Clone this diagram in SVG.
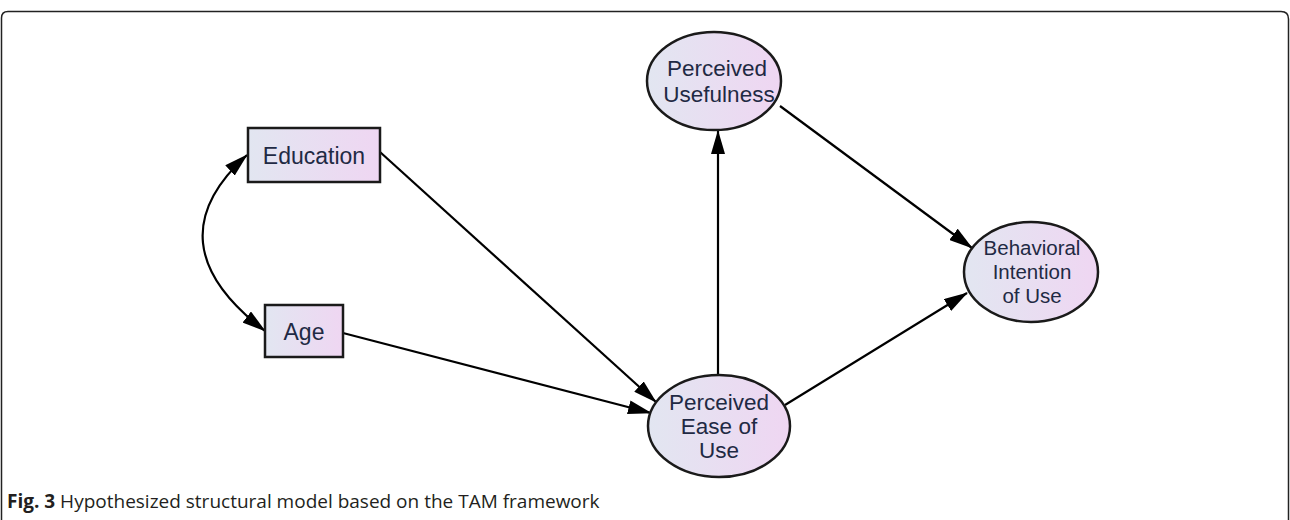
<svg xmlns="http://www.w3.org/2000/svg" width="1290" height="520" viewBox="0 0 1290 520">
<defs>
<linearGradient id="g" x1="0" y1="0" x2="1" y2="0">
<stop offset="0" stop-color="#e2e6f1"/>
<stop offset="1" stop-color="#efd6f2"/>
</linearGradient>
<marker id="ah2" viewBox="0 0 24 14" refX="23" refY="7" markerWidth="24" markerHeight="14" markerUnits="userSpaceOnUse" orient="auto-start-reverse">
<path d="M0,0 L24,7 L0,14 z" fill="#000"/>
</marker>
<style>
.n{fill:url(#g);stroke:#1a1a1a;stroke-width:2.5}
.t{font-family:"Liberation Sans",Arial,sans-serif;font-size:22.5px;fill:#1f2a44;text-anchor:middle}
.tb{font-size:23px}
.ts{font-size:20.5px}
.c{fill:none;stroke:#000;stroke-width:2.2;marker-end:url(#ah2)}
</style>
</defs>
<path d="M1.5,520 V18 Q1.5,11.5 8,11.5 H1281 Q1288.5,11.5 1288.5,19 V520" fill="none" stroke="#222" stroke-width="1.5"/>
<g id="connectors">
<path class="c" d="M380,152 L656,402"/>
<path class="c" d="M343,333 L651,413"/>
<path class="c" d="M718,374 L718,131"/>
<path class="c" d="M780,106 L972,248"/>
<path class="c" d="M785,405 L967,293"/>
<path class="c" d="M247,155 Q150,243 265,331" style="marker-start:url(#ah2)"/>
</g>
<g id="education">
<rect class="n" x="248" y="128" width="132" height="54"/>
<text class="t tb" x="314" y="164">Education</text>
</g>
<g id="age">
<rect class="n" x="265" y="305" width="78" height="52"/>
<text class="t tb" x="304" y="340">Age</text>
</g>
<g id="pu">
<ellipse class="n" cx="714" cy="81" rx="67" ry="49"/>
<text class="t" x="717" y="76">Perceived</text>
<text class="t" x="719" y="102">Usefulness</text>
</g>
<g id="peou">
<ellipse class="n" cx="719" cy="426" rx="71" ry="51"/>
<text class="t" x="719" y="410">Perceived</text>
<text class="t" x="719" y="434">Ease of</text>
<text class="t" x="719" y="458">Use</text>
</g>
<g id="bi">
<ellipse class="n" cx="1031" cy="272" rx="67" ry="50"/>
<text class="t ts" x="1032" y="255">Behavioral</text>
<text class="t ts" x="1032" y="279">Intention</text>
<text class="t ts" x="1032" y="303">of Use</text>
</g>
<text x="7" y="508" font-family="'Open Sans','Noto Sans',sans-serif" font-size="19" fill="#231f20"><tspan font-weight="bold">Fig. 3</tspan> Hypothesized structural model based on the TAM framework</text>
</svg>
